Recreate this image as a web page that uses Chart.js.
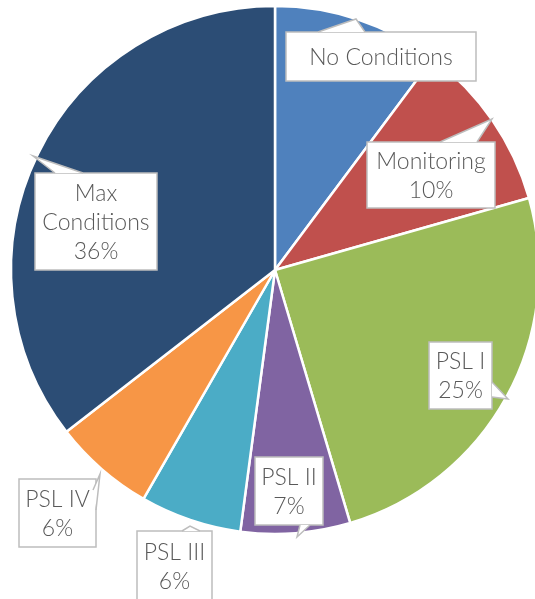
<!DOCTYPE html>
<html>
<head>
<meta charset="utf-8">
<script src="https://cdn.jsdelivr.net/npm/chart.js@4/dist/chart.umd.min.js"></script>
<style>
  html, body { margin: 0; padding: 0; background: #fff; overflow: hidden; width: 535px; height: 599px; }
  #chart { position: absolute; left: 0; top: 0; }
</style>
</head>
<body>
<canvas id="chart" width="550" height="599"></canvas>
<script>
// data (percent of total, clockwise from 12 o'clock)
const categories = ['No Conditions', 'Monitoring', 'PSL I', 'PSL II', 'PSL III', 'PSL IV', 'Max Conditions'];
const shares = [10.2, 10.4, 24.8, 6.7, 6.2, 6.2, 35.5];
const showPercent = [false, true, true, true, true, true, true];
const sliceColors = ['#4f81bd', '#c0504d', '#9bbb59', '#8064a2', '#4bacc6', '#f79646', '#2c4d75'];

// callout boxes: [x, y, w, h] and pointer [baseA, tip, baseB]
const callouts = [
  { box: [286, 32, 190, 49], ptr: [[318, 32], [356, 19], [365, 32]] },
  { box: [367, 142, 128, 66], ptr: [[440, 142], [492, 119], [477, 142]] },
  { box: [429, 342, 63, 67], ptr: [[492, 382], [508, 399], [492, 397]] },
  { box: [255, 457, 68, 68], ptr: [[310, 525], [297, 537], [300, 525]] },
  { box: [137, 531, 75, 70], ptr: [[182, 531], [190, 526], [200, 531]] },
  { box: [19, 479, 77, 68], ptr: [[93, 490], [100, 474], [96, 510]] },
  { box: [35, 173, 122, 97], ptr: [[55, 173], [33, 156], [83, 173]] }
];

const calloutPlugin = {
  id: 'callouts',
  afterDatasetsDraw(chart) {
    const ctx = chart.ctx;
    const vals = chart.data.datasets[0].data;
    ctx.save();
    callouts.forEach((c, i) => {
      const [x, y, w, h] = c.box;
      const [a, t, b] = c.ptr;
      ctx.fillStyle = '#ffffff';
      ctx.strokeStyle = '#bdbdbd';
      ctx.lineWidth = 1.5;
      ctx.fillRect(x, y, w, h);
      ctx.strokeRect(x, y, w, h);
      // pointer, covering the box edge under its base
      ctx.beginPath();
      ctx.moveTo(a[0], a[1]);
      ctx.lineTo(t[0], t[1]);
      ctx.lineTo(b[0], b[1]);
      ctx.closePath();
      ctx.fill();
      ctx.beginPath();
      ctx.moveTo(a[0], a[1]);
      ctx.lineTo(t[0], t[1]);
      ctx.lineTo(b[0], b[1]);
      ctx.stroke();

      const name = chart.data.labels[i];
      const textLines = name === 'Max Conditions' ? ['Max', 'Conditions'] : [name];
      if (showPercent[i]) textLines.push(Math.round(vals[i]) + '%');
      ctx.fillStyle = '#595959';
      ctx.font = '300 23px Lato';
      ctx.textAlign = 'center';
      ctx.textBaseline = 'middle';
      const lh = 29;
      const cy = y + h / 2 - (textLines.length - 1) * lh / 2 + 1;
      textLines.forEach((s, k) => ctx.fillText(s, x + w / 2, cy + k * lh));
    });
    ctx.restore();
  }
};

new Chart(document.getElementById('chart'), {
  type: 'pie',
  data: {
    labels: categories,
    datasets: [{
      data: shares,
      backgroundColor: sliceColors,
      borderColor: '#ffffff',
      borderWidth: 2.5
    }]
  },
  options: {
    responsive: false,
    animation: false,
    radius: 264,
    layout: { padding: { left: 0, right: 0, top: 0, bottom: 59 } },
    plugins: {
      legend: { display: false },
      tooltip: { enabled: false }
    }
  },
  plugins: [calloutPlugin]
});
</script>
</body>
</html>
